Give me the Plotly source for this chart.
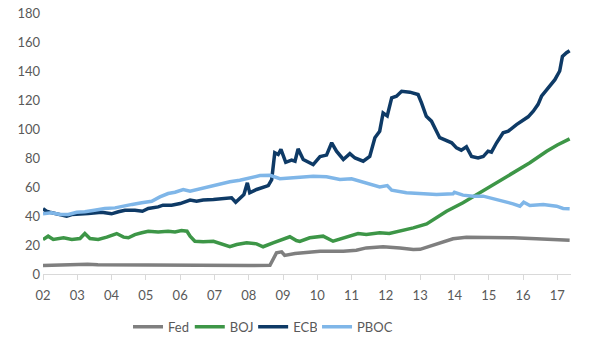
import plotly.graph_objects as go

# ---- Data ----
fed_x = [2002.0, 2002.5, 2003.0, 2003.3, 2003.6, 2004.0, 2005.0, 2006.0, 2006.5, 2007.0, 2008.0,
         2008.62, 2008.72, 2008.81, 2008.96, 2009.05, 2009.35, 2009.78, 2010.08, 2010.76, 2011.14,
         2011.43, 2011.92, 2012.41, 2012.8, 2013.0, 2013.28, 2013.57, 2013.96, 2014.35, 2015.03,
         2015.71, 2016.39, 2017.0, 2017.36]
fed_y = [5.9, 6.2, 6.3, 6.8, 6.3, 6.2, 6.2, 6.0, 5.7, 5.8, 5.8,
         6.0, 11.2, 14.6, 15.3, 12.8, 14.1, 15.0, 15.7, 15.7, 16.4,
         18.0, 18.8, 18.0, 16.9, 17.0, 19.2, 21.5, 24.3, 25.4, 25.4,
         25.0, 24.3, 23.8, 23.3]

boj_x = [2002.0, 2002.15, 2002.3, 2002.6, 2002.84, 2003.08, 2003.22, 2003.37, 2003.61, 2003.86,
         2004.15, 2004.35, 2004.49, 2004.68, 2004.88, 2005.07, 2005.36, 2005.65, 2005.85, 2006.04,
         2006.2, 2006.29, 2006.43, 2006.67, 2006.97, 2007.16, 2007.45, 2007.65, 2007.94, 2008.23,
         2008.42, 2008.71, 2009.0, 2009.2, 2009.39, 2009.49, 2009.78, 2010.17, 2010.46, 2010.76,
         2011.19, 2011.43, 2011.82, 2012.1, 2012.41, 2012.8, 2013.19, 2013.38, 2013.77, 2014.25,
         2014.74, 2015.23, 2015.71, 2016.2, 2016.69, 2017.0, 2017.36]
boj_y = [23.8, 26.1, 23.8, 25.0, 23.8, 24.5, 27.9, 24.5, 23.8, 25.4,
         27.9, 25.4, 25.0, 27.2, 28.4, 29.5, 28.9, 29.5, 29.0, 30.0,
         29.5, 26.1, 22.6, 22.2, 22.6, 21.0, 18.8, 20.3, 21.5, 20.8,
         18.8, 21.5, 23.8, 25.7, 23.1, 22.5, 25.0, 26.1, 22.6, 25.0,
         27.9, 27.2, 28.4, 27.9, 29.5, 31.8, 34.5, 37.6, 43.3, 49.1,
         56.0, 63.6, 69.8, 76.7, 84.7, 89.0, 93.2]

ecb_x = [2002.0, 2002.1, 2002.2, 2002.35, 2002.55, 2002.69, 2002.84, 2003.03, 2003.32, 2003.71,
         2004.0, 2004.2, 2004.39, 2004.68, 2004.9, 2005.07, 2005.36, 2005.5, 2005.75, 2006.0,
         2006.29, 2006.48, 2006.67, 2006.97, 2007.26, 2007.5, 2007.62, 2007.74, 2007.86, 2007.96,
         2008.03, 2008.23, 2008.42, 2008.57, 2008.67, 2008.76, 2008.86, 2008.94, 2009.08, 2009.25,
         2009.35, 2009.44, 2009.59, 2009.78, 2009.88, 2010.08, 2010.27, 2010.42, 2010.56, 2010.76,
         2010.95, 2011.1, 2011.34, 2011.53, 2011.68, 2011.82, 2011.92, 2012.04, 2012.17, 2012.31,
         2012.46, 2012.7, 2012.94, 2013.04, 2013.18, 2013.33, 2013.48, 2013.57, 2013.92, 2014.06,
         2014.2, 2014.35, 2014.5, 2014.69, 2014.84, 2014.98, 2015.08, 2015.23, 2015.42, 2015.57,
         2015.81, 2016.15, 2016.3, 2016.44, 2016.54, 2016.69, 2016.93, 2017.07, 2017.15, 2017.27,
         2017.36]
ecb_y = [45.0, 43.3, 42.6, 41.7, 41.0, 39.9, 41.0, 41.5, 41.7, 42.6,
         41.5, 42.9, 44.0, 44.0, 43.3, 45.2, 46.3, 47.5, 47.5, 48.6,
         51.0, 50.2, 51.0, 51.4, 52.0, 52.5, 49.5, 52.5, 54.8, 62.9,
         56.0, 58.3, 60.1, 61.0, 65.0, 83.6, 82.4, 85.9, 77.0, 78.5,
         77.8, 86.3, 79.0, 76.7, 75.5, 81.0, 82.0, 90.5, 84.7, 79.0,
         83.0, 80.0, 77.8, 81.0, 94.0, 98.5, 111.0, 109.0, 121.5, 122.6,
         126.0, 125.4, 123.8, 118.0, 108.8, 105.4, 98.5, 94.0, 90.5, 87.0,
         85.4, 87.7, 81.0, 80.0, 81.0, 84.7, 84.0, 90.5, 97.4, 98.5,
         103.0, 108.4, 112.3, 117.0, 122.6, 127.0, 134.0, 140.0, 150.0, 152.6,
         154.0]

pboc_x = [2002.0, 2002.25, 2002.5, 2002.74, 2002.98, 2003.22, 2003.5, 2003.8, 2004.1, 2004.3,
          2004.6, 2004.88, 2005.17, 2005.41, 2005.65, 2005.85, 2006.09, 2006.29, 2006.58, 2006.87,
          2007.16, 2007.45, 2007.74, 2008.03, 2008.33, 2008.62, 2008.91, 2009.3, 2009.69, 2009.88,
          2010.27, 2010.66, 2011.0, 2011.43, 2011.82, 2012.04, 2012.17, 2012.6, 2013.19, 2013.48,
          2013.96, 2014.0, 2014.25, 2014.55, 2014.84, 2015.13, 2015.42, 2015.71, 2015.91, 2016.02,
          2016.2, 2016.59, 2016.98, 2017.17, 2017.36]
pboc_y = [41.5, 42.2, 41.0, 41.0, 42.6, 42.9, 44.0, 45.2, 45.6, 46.8,
          48.0, 49.1, 50.2, 53.2, 55.5, 56.4, 58.3, 57.1, 58.8, 60.1,
          62.2, 63.6, 64.7, 66.3, 67.9, 68.1, 65.7, 66.3, 67.4, 67.4,
          67.0, 65.2, 65.7, 62.9, 60.1, 61.0, 57.8, 56.0, 55.3, 54.8,
          55.3, 56.4, 54.4, 53.7, 53.7, 52.1, 50.2, 48.4, 46.8, 49.5,
          47.2, 47.9, 46.8, 45.2, 45.0]

tick_vals = list(range(2002, 2018))
tick_text = ["02", "03", "04", "05", "06", "07", "08", "09", "10", "11", "12", "13", "14", "15", "16", "17"]

series = [
    ("Fed", fed_x, fed_y, "#7f7f7f", "legend", 0.161),
    ("BOJ", boj_x, boj_y, "#3d9647", "legend2", 0.278),
    ("ECB", ecb_x, ecb_y, "#0e3a66", "legend3", 0.398),
    ("PBOC", pboc_x, pboc_y, "#7fb6e8", "legend4", 0.519),
]

font_col = "#595959"
fig = go.Figure()
legends = {}
for name, xs, ys, col, lg, lx in series:
    fig.add_trace(go.Scatter(x=xs, y=ys, name=name, mode="lines", legend=lg,
                             line=dict(color=col, width=3.5)))
    legends[lg] = dict(orientation="h", x=lx, xanchor="left", y=-0.145, yanchor="top",
                       font=dict(size=13, color=font_col), itemwidth=30, tracegroupgap=0)

fig.update_layout(
    width=600, height=344,
    margin=dict(l=43, r=29, t=13, b=70, autoexpand=False),
    paper_bgcolor="white", plot_bgcolor="white",
    font=dict(family="Lato, Open Sans, sans-serif", size=13, color=font_col),
    showlegend=True,
    xaxis=dict(range=[2002, 2017.4], tickmode="array", tickvals=tick_vals, ticktext=tick_text,
               showgrid=False, zeroline=False, showline=True, linecolor="#d9d9d9", linewidth=1,
               ticks="outside", ticklen=5, tickcolor="#d9d9d9", ticklabelstandoff=4,
               tickfont=dict(size=13, color=font_col)),
    yaxis=dict(range=[0, 180], tickvals=list(range(0, 181, 20)), showgrid=False, zeroline=False,
               showline=False, ticks="", ticklabelstandoff=2, tickfont=dict(size=13, color=font_col)),
    **legends,
)

fig.write_html("out.html")
